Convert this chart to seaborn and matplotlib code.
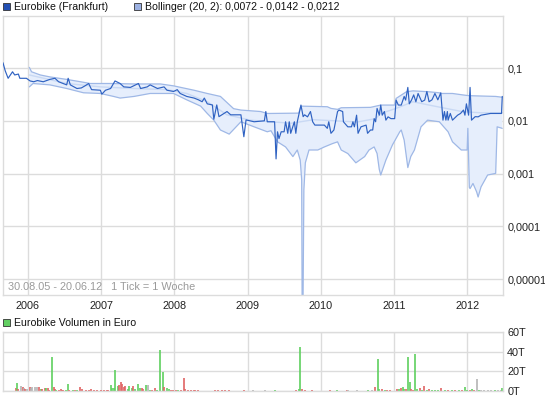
import numpy as np
import pandas as pd
import seaborn as sns
import matplotlib
matplotlib.use("Agg")
import matplotlib.pyplot as plt
from matplotlib.patches import Rectangle

# weekly close in EUR (decimal year)
price_year = [2005.66, 2005.69, 2005.73, 2005.79, 2005.82, 2005.87, 2005.89, 2005.98, 2006.03, 2006.08,
              2006.13, 2006.21, 2006.30, 2006.37, 2006.42, 2006.53, 2006.55, 2006.58, 2006.67, 2006.73,
              2006.78, 2006.83, 2006.87, 2006.99, 2007.01, 2007.06, 2007.13, 2007.19, 2007.26, 2007.31,
              2007.40, 2007.51, 2007.54, 2007.63, 2007.67, 2007.77, 2007.86, 2007.90, 2007.99, 2008.04,
              2008.08, 2008.17, 2008.27, 2008.33, 2008.38, 2008.41, 2008.45, 2008.52, 2008.54, 2008.58,
              2008.61, 2008.65, 2008.72, 2008.77, 2008.91, 2008.95, 2008.98, 2009.09, 2009.23, 2009.25,
              2009.27, 2009.32, 2009.37, 2009.39, 2009.41, 2009.43, 2009.46, 2009.50, 2009.52, 2009.55,
              2009.57, 2009.59, 2009.64, 2009.66, 2009.68, 2009.73, 2009.76, 2009.78,
              2009.82, 2009.86, 2009.89, 2009.92, 2010.05, 2010.09, 2010.11, 2010.14, 2010.18, 2010.23,
              2010.25, 2010.30, 2010.31, 2010.37, 2010.42, 2010.44, 2010.46, 2010.49, 2010.51, 2010.55,
              2010.62, 2010.64, 2010.68, 2010.71, 2010.73, 2010.75, 2010.77, 2010.80, 2010.82, 2010.84,
              2010.87, 2010.89, 2010.92, 2010.96, 2011.01, 2011.03, 2011.06, 2011.10, 2011.14, 2011.16,
              2011.19, 2011.21, 2011.24, 2011.27, 2011.30, 2011.33, 2011.38, 2011.42, 2011.45, 2011.48,
              2011.52, 2011.56, 2011.60, 2011.64, 2011.67, 2011.69, 2011.71, 2011.73, 2011.74, 2011.77,
              2011.80, 2011.87, 2011.91, 2011.95, 2011.97, 2011.99, 2012.02, 2012.04, 2012.06, 2012.11,
              2012.15, 2012.19, 2012.32, 2012.47, 2012.48]
price_val = [0.126, 0.089, 0.064, 0.085, 0.074, 0.077, 0.064, 0.064, 0.057, 0.055,
             0.058, 0.055, 0.061, 0.064, 0.055, 0.048, 0.064, 0.048, 0.041, 0.042,
             0.046, 0.051, 0.039, 0.038, 0.032, 0.038, 0.041, 0.057, 0.051, 0.044,
             0.043, 0.051, 0.041, 0.044, 0.048, 0.041, 0.044, 0.038, 0.036, 0.039,
             0.033, 0.029, 0.027, 0.025, 0.023, 0.027, 0.021, 0.020, 0.0107, 0.020,
             0.012, 0.013, 0.015, 0.013, 0.013, 0.005, 0.0104, 0.0096, 0.0100, 0.015,
             0.0096, 0.0096, 0.0096, 0.0019, 0.0062, 0.0046, 0.0062, 0.0062, 0.0096, 0.0058,
             0.0096, 0.0058, 0.0096, 0.0058, 0.0096, 0.0199, 0.012, 0.013,
             0.0119, 0.015, 0.0096, 0.0083, 0.0083, 0.0072, 0.0096, 0.0058, 0.0067, 0.015,
             0.016, 0.015, 0.0096, 0.0077, 0.0077, 0.0096, 0.0077, 0.0128, 0.0058, 0.0077,
             0.0083, 0.0058, 0.0067, 0.0067, 0.011, 0.0096, 0.0172, 0.0128, 0.0199, 0.0128,
             0.015, 0.0103, 0.0119, 0.011, 0.011, 0.0247, 0.0199, 0.0199, 0.029, 0.0247,
             0.043, 0.021, 0.0247, 0.031, 0.023, 0.033, 0.023, 0.0247, 0.036, 0.023,
             0.025, 0.033, 0.025, 0.034, 0.0103, 0.015, 0.0103, 0.015, 0.0103, 0.0138,
             0.0103, 0.0128, 0.0138, 0.016, 0.0128, 0.021, 0.0128, 0.043, 0.0103, 0.012,
             0.0119, 0.0128, 0.0138, 0.0138, 0.029]

# Bollinger (20, 2) bands
upper_year = [2006.02, 2006.05, 2006.17, 2006.30, 2006.53, 2006.72, 2006.85, 2007.13, 2007.45, 2007.81,
              2007.99, 2008.27, 2008.45, 2008.63, 2008.81, 2008.91, 2009.18, 2009.27, 2009.32, 2009.70,
              2009.73, 2010.09, 2010.14, 2010.23, 2010.28, 2010.68, 2010.82, 2011.01, 2011.03, 2011.17,
              2011.26, 2011.48, 2011.62, 2011.64, 2011.80, 2011.94, 2012.02, 2012.39, 2012.48]
upper_val = [0.103, 0.085, 0.074, 0.068, 0.061, 0.055, 0.051, 0.051, 0.050, 0.050,
             0.046, 0.038, 0.033, 0.029, 0.017, 0.016, 0.015, 0.0138, 0.0138, 0.014,
             0.019, 0.0185, 0.0172, 0.0165, 0.0177, 0.018, 0.0199, 0.0199, 0.0266, 0.0355,
             0.037, 0.0355, 0.034, 0.033, 0.033, 0.031, 0.030, 0.029, 0.028]

lower_year = [2006.02, 2006.07, 2006.30, 2006.53, 2006.76, 2006.99, 2007.17, 2007.26, 2007.45, 2007.67,
              2007.99, 2008.17, 2008.36, 2008.45, 2008.54, 2008.63, 2008.75, 2008.91, 2009.09, 2009.27,
              2009.32, 2009.41, 2009.52, 2009.62, 2009.68, 2009.72, 2009.74, 2009.75, 2009.77, 2009.79,
              2009.84, 2009.96, 2010.05, 2010.16, 2010.23, 2010.28, 2010.37, 2010.48, 2010.60, 2010.66,
              2010.73, 2010.77, 2010.80, 2010.82, 2010.89, 2010.98, 2011.08, 2011.10, 2011.14, 2011.19,
              2011.23, 2011.28, 2011.37, 2011.46, 2011.62, 2011.74, 2011.80, 2011.92, 2012.00, 2012.01,
              2012.03, 2012.04, 2012.08, 2012.13, 2012.15, 2012.19, 2012.28, 2012.39, 2012.41, 2012.48]
lower_val = [0.044, 0.051, 0.048, 0.041, 0.034, 0.033, 0.029, 0.027, 0.029, 0.033,
             0.033, 0.025, 0.019, 0.0138, 0.0103, 0.0067, 0.0056, 0.0096, 0.0077, 0.0062,
             0.0065, 0.0040, 0.0032, 0.0021, 0.0028, 0.0018, 0.00076, 1e-7, 0.00049, 0.0016,
             0.0028, 0.0028, 0.0032, 0.0037, 0.0040, 0.0028, 0.0024, 0.0016, 0.0021, 0.0028,
             0.0032, 0.0024, 0.0012, 0.00094, 0.0018, 0.0035, 0.0062, 0.0067, 0.0043, 0.0013,
             0.0021, 0.0028, 0.0077, 0.0103, 0.0096, 0.0062, 0.0040, 0.0028, 0.0028, 0.0072,
             0.00055, 0.00052, 0.00065, 0.00045, 0.00036, 0.00056, 0.00094, 0.00101, 0.0077, 0.0072]

middle_year = [2006.02, 2006.53, 2006.99, 2007.45, 2007.90, 2008.17, 2008.45, 2008.72, 2009.04, 2009.32,
               2009.60, 2009.90, 2010.20, 2010.50, 2010.75, 2010.82, 2011.03, 2011.26, 2011.48, 2011.71,
               2011.94, 2012.19, 2012.48]
middle_val = [0.074, 0.051, 0.044, 0.041, 0.039, 0.033, 0.023, 0.013, 0.0103, 0.0096,
              0.0090, 0.0105, 0.0100, 0.0095, 0.0110, 0.0138, 0.0172, 0.023, 0.0199, 0.0172,
              0.0149, 0.0142, 0.0142]

# weekly volume in thousand EUR (week number since 30.08.05), g = up, r = down, n = unchanged
vol_week = [0, 9, 10, 11, 13, 14, 15, 16, 17, 19, 20, 21, 23, 24, 26, 27, 28, 30, 31, 32,
            33, 35, 36, 37, 38, 40, 41, 42, 43, 45, 46, 47, 50, 51, 53, 55, 56, 59, 61, 63,
            65, 67, 70, 72, 74, 75, 77, 78, 79, 80, 82, 83, 84, 85, 86, 87, 89, 90, 92, 93,
            94, 96, 98, 99, 100, 102, 103, 105, 106, 108, 110, 112, 114, 115, 117, 118, 120, 121, 123, 125,
            127, 129, 130, 132, 134, 136, 137, 139, 151, 153, 156, 158, 161, 172, 178, 187, 194, 203, 209, 211,
            212, 213, 215, 220, 233, 238, 245, 246, 252, 260, 263, 265, 267, 268, 270, 272, 274, 276, 281, 282,
            284, 285, 286, 287, 289, 290, 291, 292, 294, 295, 297, 299, 300, 302, 304, 306, 308, 310, 312, 315,
            317, 320, 322, 325, 327, 329, 331, 333, 334, 336, 338, 339, 341, 343, 346, 348, 351, 353, 355, 356]
vol_t = [0.5, 3, 7.8, 2.5, 5, 4, 3, 2, 2.5, 4, 3.5, 4, 4.5, 4, 4, 2, 2.5, 3, 3.5, 3,
         1.5, 34.7, 4, 2, 1.5, 1.5, 2, 1.5, 1, 1.5, 7, 1, 1, 0.8, 0.8, 4, 2, 1, 1.5, 2.5,
         1, 1.2, 0.8, 1.5, 1.2, 1.5, 6, 3, 3, 21.2, 5, 6, 9, 7, 4, 5, 2.5, 5, 3, 5,
         2, 7, 3, 3, 2.5, 6, 6, 1, 1, 3, 1, 41.5, 19.6, 4, 3, 2, 1.5, 1.5, 1.5, 1,
         1.5, 13.5, 2, 1.5, 1, 1, 1, 0.8, 1.2, 0.8, 1.2, 1.2, 1, 1.5, 0.6, 0.8, 0.6, 0.5, 0.8, 2,
         44.9, 2, 1.5, 1, 0.8, 1.5, 1, 0.6, 1.2, 0.6, 1.5, 4, 33, 2, 2, 1, 1, 1.5, 2.5, 2.5,
         3, 4, 2, 2, 34.7, 9.4, 2, 1.5, 37.4, 2, 3, 1.5, 5, 1.5, 2, 1.5, 1.5, 1.5, 3, 1,
         1, 1, 1, 1, 1.5, 4.4, 0.8, 1, 2.5, 1, 12.1, 1, 0.8, 1, 1, 1, 0.8, 1, 1, 3.4]
vol_dir = list("rrgrnrnrnrnnnnrgrrgr"
               "rgrrgrrrrggrgrgrrrrr"
               "rrrrrrgggggrrrrrgggr"
               "gggrrgngrrgggrggrrrg"
               "rrrrrrrrrrrrrrnngnrg"
               "grrrrgrnngnrggrgrrrg"
               "rggrggrrggrgrgrgggrg"
               "rgrgrggrgrngnnnngnng")

year_ticks = [2006, 2007, 2008, 2009, 2010, 2011, 2012]
price_ticks = [0.1, 0.01, 0.001, 0.0001, 0.00001]
price_tick_labels = ["0,1", "0,01", "0,001", "0,0001", "0,00001"]
vol_ticks = [0, 20, 40, 60]
vol_tick_labels = ["0T", "20T", "40T", "60T"]

sns.set_theme(style="white")
plt.rcParams["font.family"] = ["Liberation Sans", "DejaVu Sans"]

W, H = 545, 401
fig = plt.figure(figsize=(W / 100, H / 100), dpi=100)

def fx(px):
    return px / W

def fy(py):
    return 1 - py / H

grid_c = "#dcdcdc"
line_c = "#2f62c2"
band_edge = "#9fb8e6"
band_fill = "#e6eefc"
mid_c = "#c9d9f4"
x0, x1 = 2005.66, 2012.49

ax = fig.add_axes([fx(3), fy(295), fx(500), 279 / H])
ax.set_yscale("log")

# band fill as one polygon (upper edge then lower edge back)
poly_x = np.r_[upper_year, lower_year[::-1]]
poly_y = np.r_[upper_val, lower_val[::-1]]
ax.fill(poly_x, poly_y, color=band_fill, lw=0, zorder=1)
sns.lineplot(x=upper_year, y=upper_val, ax=ax, color=band_edge, lw=0.9, sort=False, zorder=2)
sns.lineplot(x=lower_year, y=lower_val, ax=ax, color=band_edge, lw=0.9, sort=False, zorder=2)
sns.lineplot(x=middle_year, y=middle_val, ax=ax, color=mid_c, lw=1.0, sort=False, zorder=2)
sns.lineplot(x=price_year, y=price_val, ax=ax, color=line_c, lw=0.85, sort=False, zorder=3)

ax.set_xlim(x0, x1)
ax.set_ylim(5e-6, 0.97)
ax.set_xticks(year_ticks)
ax.set_xticklabels([str(y) for y in year_ticks])
ax.set_yticks(price_ticks)
ax.set_yticklabels(price_tick_labels)
ax.yaxis.set_minor_locator(matplotlib.ticker.NullLocator())
ax.yaxis.tick_right()
ax.tick_params(axis="both", length=0, labelsize=7.8, colors="#222222")
ax.tick_params(axis="y", pad=3)
ax.tick_params(axis="x", pad=4)
ax.grid(True, color=grid_c, lw=1)
ax.set_axisbelow(True)
for s in ax.spines.values():
    s.set_color(grid_c)
    s.set_linewidth(1)
ax.set_xlabel("")
ax.set_ylabel("")

ax.text(0.009, 0.012, "30.08.05 - 20.06.12   1 Tick = 1 Woche", transform=ax.transAxes,
        fontsize=7.8, color="#9a9a9a", ha="left", va="bottom")

# volume panel
vol_year = [2005.66 + w / 52.18 for w in vol_week]
dir_colors = {"g": "#5fd05f", "r": "#e06464", "n": "#b4b4b4"}
axv = fig.add_axes([fx(3), fy(391), fx(500), 59 / H])
axv.vlines(vol_year, 0, vol_t, colors=[dir_colors[d] for d in vol_dir], lw=1.2)
axv.set_xlim(x0, x1)
axv.set_ylim(0, 60)
axv.set_xticks(year_ticks)
axv.set_xticklabels([])
axv.set_yticks(vol_ticks)
axv.set_yticklabels(vol_tick_labels)
axv.yaxis.tick_right()
axv.tick_params(axis="both", length=0, labelsize=7.8, colors="#222222")
axv.tick_params(axis="y", pad=3)
axv.grid(True, color=grid_c, lw=1)
axv.set_axisbelow(True)
for s in axv.spines.values():
    s.set_color(grid_c)
    s.set_linewidth(1)

# legend boxes drawn by hand like the original
def legend_box(px, py, face, label):
    fig.patches.append(Rectangle((fx(px), fy(py + 7)), 7 / W, 7 / H, transform=fig.transFigure,
                                 facecolor=face, edgecolor="#333333", lw=0.6))
    fig.text(fx(px + 11), fy(py + 3.5), label, fontsize=7.6, color="#111111", ha="left", va="center")

legend_box(3, 3, "#2350b4", "Eurobike (Frankfurt)")
legend_box(134, 3, "#9cb1e2", "Bollinger (20, 2): 0,0072 - 0,0142 - 0,0212")
legend_box(3, 319, "#62cf62", "Eurobike Volumen in Euro")

fig.savefig("out.png", dpi=100)
